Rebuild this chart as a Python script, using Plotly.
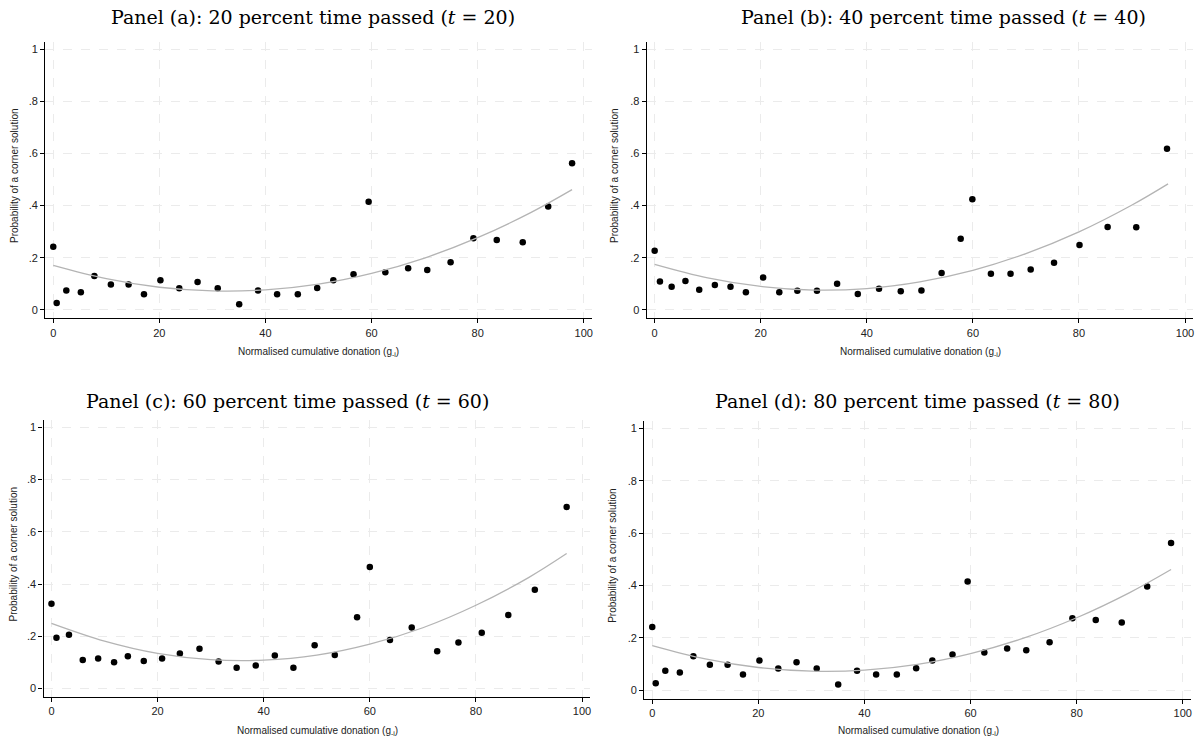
import plotly.graph_objects as go

W, H = 1203, 743

# ---- data ----
a_x = [0, 0.65, 2.46, 5.2, 7.75, 10.86, 14.2, 17.1, 20.2, 23.75, 27.2, 31.0, 35.05, 38.6,
       42.2, 46.1, 49.75, 52.8, 56.6, 59.45, 62.6, 66.9, 70.5, 74.9, 79.2, 83.6, 88.5, 93.3, 97.8]
a_y = [0.242, 0.027, 0.075, 0.068, 0.130, 0.098, 0.098, 0.060, 0.114, 0.083, 0.107, 0.083, 0.022, 0.075,
       0.060, 0.060, 0.084, 0.114, 0.137, 0.415, 0.144, 0.160, 0.153, 0.183, 0.275, 0.268, 0.259, 0.396, 0.562]
a_fit_x = [0, 10, 20, 30, 40, 50, 60, 70, 80, 90, 97.8]
a_fit_y = [0.171, 0.120, 0.087, 0.073, 0.077, 0.099, 0.140, 0.199, 0.277, 0.373, 0.461]

b_x = [0, 1.0, 3.2, 5.8, 8.4, 11.35, 14.3, 17.2, 20.45, 23.5, 26.9, 30.6, 34.4, 38.3,
       42.3, 46.4, 50.3, 54.1, 57.7, 59.9, 63.4, 67.1, 70.9, 75.3, 80.1, 85.4, 90.8, 96.6]
b_y = [0.227, 0.109, 0.089, 0.111, 0.077, 0.096, 0.089, 0.068, 0.124, 0.068, 0.074, 0.074, 0.100, 0.061,
       0.081, 0.072, 0.075, 0.142, 0.273, 0.424, 0.139, 0.139, 0.155, 0.181, 0.249, 0.318, 0.317, 0.618]
b_fit_x = [0, 10, 20, 30, 40, 50, 60, 70, 80, 90, 96.8]
b_fit_y = [0.175, 0.123, 0.090, 0.076, 0.082, 0.108, 0.152, 0.216, 0.299, 0.402, 0.483]

c_x = [0, 0.94, 3.3, 5.9, 8.8, 11.8, 14.4, 17.4, 20.85, 24.2, 27.9, 31.5, 34.9, 38.5,
       42.1, 45.6, 49.6, 53.4, 57.6, 60.0, 63.8, 67.9, 72.7, 76.7, 81.1, 86.1, 91.1, 97.1]
c_y = [0.325, 0.195, 0.206, 0.110, 0.115, 0.101, 0.124, 0.106, 0.115, 0.134, 0.153, 0.104, 0.080, 0.089,
       0.127, 0.080, 0.166, 0.129, 0.273, 0.465, 0.186, 0.234, 0.143, 0.177, 0.214, 0.282, 0.378, 0.695]
c_fit_x = [0, 10, 20, 30, 40, 50, 60, 70, 80, 90, 97.1]
c_fit_y = [0.250, 0.182, 0.135, 0.111, 0.109, 0.128, 0.170, 0.233, 0.319, 0.426, 0.517]

d_x = [0, 0.65, 2.46, 5.2, 7.75, 10.86, 14.2, 17.1, 20.2, 23.75, 27.2, 31.0, 35.05, 38.6,
       42.2, 46.1, 49.75, 52.8, 56.6, 59.45, 62.6, 66.9, 70.5, 74.9, 79.2, 83.6, 88.5, 93.3, 97.8]
d_y = [0.242, 0.027, 0.075, 0.068, 0.130, 0.098, 0.098, 0.060, 0.114, 0.083, 0.107, 0.083, 0.022, 0.075,
       0.060, 0.060, 0.084, 0.114, 0.137, 0.415, 0.144, 0.160, 0.153, 0.183, 0.275, 0.268, 0.259, 0.396, 0.562]
d_fit_x = [0, 10, 20, 30, 40, 50, 60, 70, 80, 90, 97.8]
d_fit_y = [0.171, 0.120, 0.087, 0.073, 0.077, 0.099, 0.140, 0.199, 0.277, 0.373, 0.461]

titles = [
    "Panel (a): 20 percent time passed (<i>t</i> = 20)",
    "Panel (b): 40 percent time passed (<i>t</i> = 40)",
    "Panel (c): 60 percent time passed (<i>t</i> = 60)",
    "Panel (d): 80 percent time passed (<i>t</i> = 80)",
]
x_ticks = [0, 20, 40, 60, 80, 100]
x_tick_labels = ["0", "20", "40", "60", "80", "100"]
y_ticks = [0, 0.2, 0.4, 0.6, 0.8, 1]
y_tick_labels = ["0", ".2", ".4", ".6", ".8", "1"]
x_title = "Normalised cumulative donation (g<sub>-i</sub>)"
y_title = "Probability of a corner solution"

# ---- layout geometry (pixels) ----
panels = [
    dict(x=a_x, y=a_y, fx=a_fit_x, fy=a_fit_y, l=45.3, r=591.7, t=41.7, b=318.3,
         tx=313, ty=17, xtx=318, xty=352, ytx=15),
    dict(x=b_x, y=b_y, fx=b_fit_x, fy=b_fit_y, l=646.7, r=1193.0, t=41.7, b=318.3,
         tx=943, ty=17, xtx=920, xty=352, ytx=615),
    dict(x=c_x, y=c_y, fx=c_fit_x, fy=c_fit_y, l=43.5, r=590.0, t=420.0, b=697.0,
         tx=287, ty=401, xtx=317, xty=731, ytx=13),
    dict(x=d_x, y=d_y, fx=d_fit_x, fy=d_fit_y, l=644.3, r=1190.7, t=421.0, b=698.7,
         tx=917, ty=401, xtx=918, xty=731, ytx=613),
]

fig = go.Figure()
annotations = []
layout_axes = {}
for i, p in enumerate(panels):
    n = "" if i == 0 else str(i + 1)
    xa, ya = "x" + n, "y" + n
    fig.add_trace(go.Scatter(x=p["x"], y=p["y"], mode="markers", xaxis=xa, yaxis=ya,
                             marker=dict(color="black", size=6.5, line=dict(width=0)),
                             showlegend=False, hoverinfo="x+y"))
    fig.add_trace(go.Scatter(x=p["fx"], y=p["fy"], mode="lines", xaxis=xa, yaxis=ya,
                             line=dict(color="#b4b4b4", width=1.3, shape="spline"),
                             showlegend=False, hoverinfo="skip"))
    common = dict(showgrid=True, gridcolor="#ebebeb", griddash="dash", gridwidth=1,
                  zeroline=False, showline=True, linecolor="black", linewidth=1.3,
                  ticks="outside", ticklen=4, tickwidth=1, tickcolor="black",
                  tickfont=dict(family="Liberation Sans, Arial", size=11, color="#222"))
    layout_axes["xaxis" + n] = dict(common, domain=[p["l"] / W, p["r"] / W],
                                    range=[-1.5, 101.5], tickvals=x_ticks, ticktext=x_tick_labels,
                                    anchor=ya)
    layout_axes["yaxis" + n] = dict(common, domain=[1 - p["b"] / H, 1 - p["t"] / H],
                                    range=[-0.032, 1.028], tickvals=y_ticks, ticktext=y_tick_labels,
                                    anchor=xa)
    annotations.append(dict(text=titles[i], x=p["tx"] / W, y=1 - p["ty"] / H, xref="paper", yref="paper",
                            xanchor="center", yanchor="middle", showarrow=False,
                            font=dict(family="DejaVu Serif, serif", size=19, color="black")))
    annotations.append(dict(text=x_title, x=p["xtx"] / W, y=1 - p["xty"] / H, xref="paper", yref="paper",
                            xanchor="center", yanchor="middle", showarrow=False,
                            font=dict(family="Liberation Sans, Arial", size=10, color="#222")))
    annotations.append(dict(text=y_title, x=p["ytx"] / W,
                            y=1 - ((p["t"] + p["b"]) / 2 - 4) / H, xref="paper", yref="paper",
                            xanchor="center", yanchor="middle", showarrow=False, textangle=-90,
                            font=dict(family="Liberation Sans, Arial", size=10, color="#222")))

fig.update_layout(width=W, height=H, margin=dict(l=0, r=0, t=0, b=0),
                  paper_bgcolor="white", plot_bgcolor="white",
                  annotations=annotations, **layout_axes)

fig.write_html("out.html")
